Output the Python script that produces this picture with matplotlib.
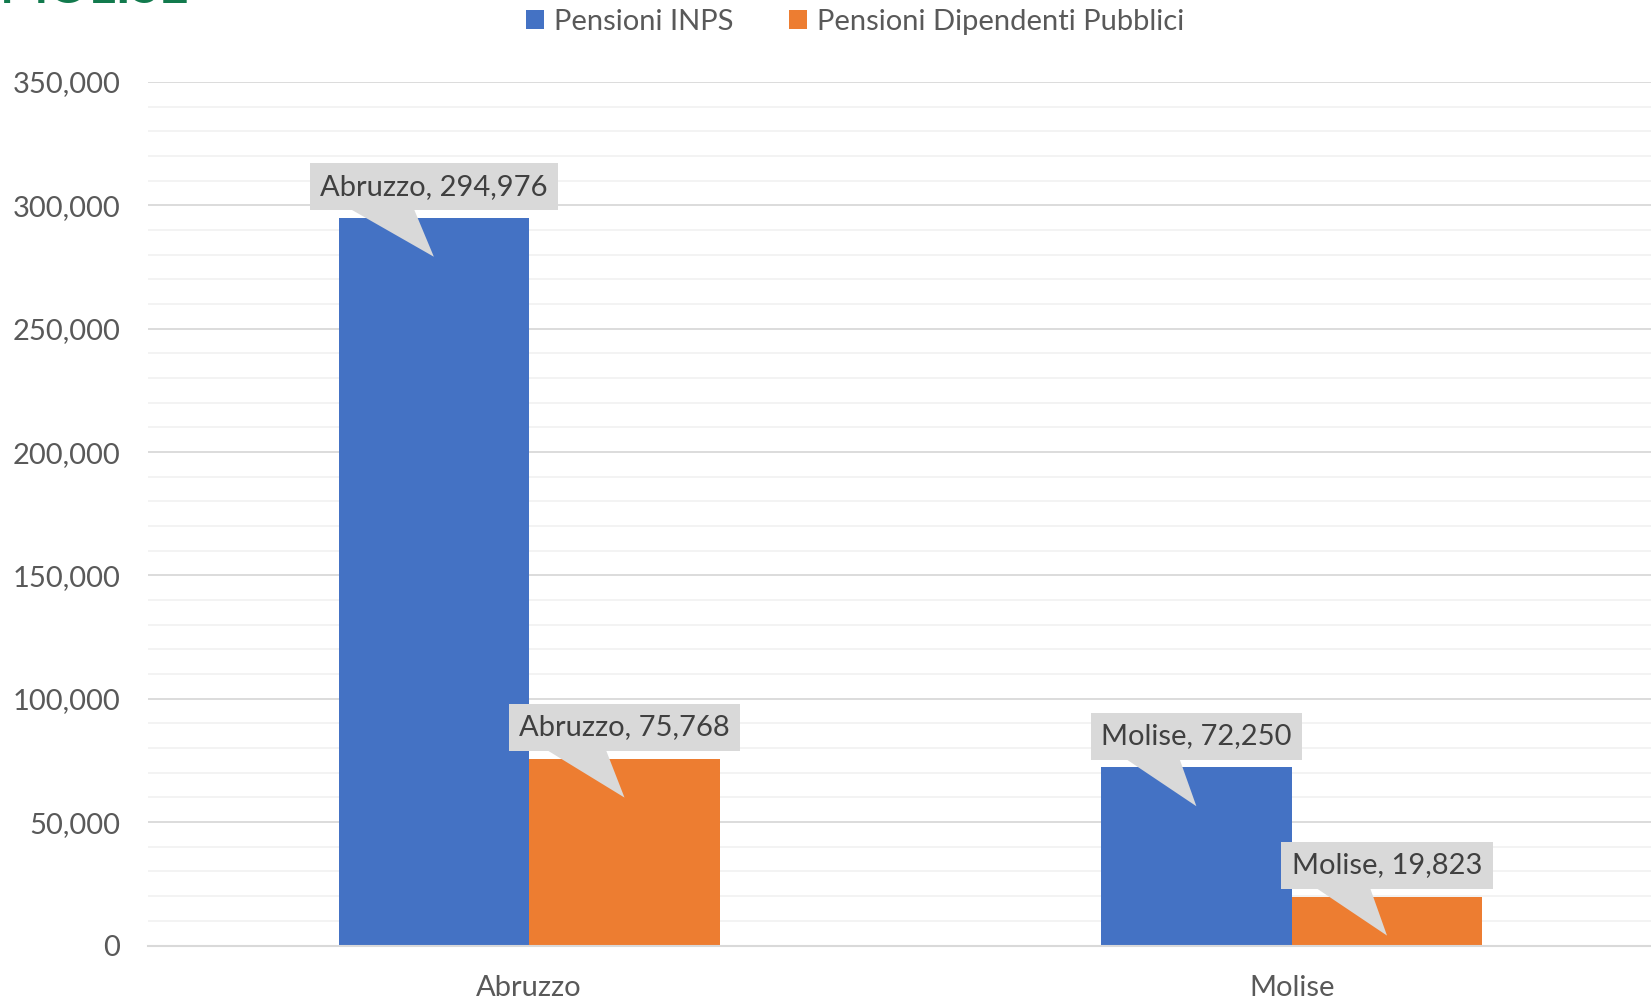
import numpy as np
import matplotlib.pyplot as plt
from matplotlib.patches import Polygon
from matplotlib.ticker import MultipleLocator, FuncFormatter

plt.rcParams['font.family'] = ['Lato', 'DejaVu Sans']

# data
regions = ['Abruzzo', 'Molise']
inps = [294976, 72250]
pubblici = [75768, 19823]
series_names = ['Pensioni INPS', 'Pensioni Dipendenti Pubblici']

blue = '#4472c4'
orange = '#ed7d31'
label_gray = '#d9d9d9'

fig = plt.figure(figsize=(16.51, 10), dpi=100)
ax = fig.add_axes([0.0896, 0.0545, 0.9237, 0.8635])

x = np.arange(len(regions))
w = 0.25
b1 = ax.bar(x - w / 2, inps, w, color=blue, label=series_names[0], zorder=2)
b2 = ax.bar(x + w / 2, pubblici, w, color=orange, label=series_names[1], zorder=2)

ax.set_xlim(-0.5, 1.5)
ax.set_ylim(0, 350000)
ax.yaxis.set_major_locator(MultipleLocator(50000))
ax.yaxis.set_minor_locator(MultipleLocator(10000))
ax.yaxis.set_major_formatter(FuncFormatter(lambda v, p: f'{int(v):,}'))
ax.grid(axis='y', which='major', color='#d9d9d9', lw=1.3, zorder=0)
ax.grid(axis='y', which='minor', color='#f2f2f2', lw=1.3, zorder=0)
ax.set_axisbelow(True)
for s in ['top', 'right', 'left']:
    ax.spines[s].set_visible(False)
ax.spines['bottom'].set_color('#d9d9d9')
ax.spines['bottom'].set_linewidth(1.5)

ax.set_xticks(x)
ax.set_xticklabels(regions)
ax.tick_params(axis='x', length=0, pad=21, labelsize=21, labelcolor='#595959')
ax.tick_params(axis='y', which='both', length=0, pad=20, labelsize=21, labelcolor='#595959')

# cut off title at top
fig.text(0.0, 1.0 - 3 / 1000, 'MOLISE', color='#127a4d', fontsize=37, fontweight='bold',
         ha='left', va='baseline')

leg = fig.legend(handles=[b1, b2], loc='center', bbox_to_anchor=(0.518, 0.978), ncol=2,
                 frameon=False, fontsize=21, handlelength=0.6, handleheight=0.6,
                 handletextpad=0.35, columnspacing=1.9)
for t in leg.get_texts():
    t.set_color('#595959')

# callout labels
texts = []
for bars in (b1, b2):
    for bar, reg in zip(bars, regions):
        xc = bar.get_x() + bar.get_width() / 2
        h = bar.get_height()
        t = ax.annotate(f'{reg}, {int(h):,}', (xc, h), xytext=(0, 13), textcoords='offset points',
                        ha='center', va='bottom', fontsize=21, color='#404040', zorder=5,
                        bbox=dict(boxstyle='square,pad=0.36', fc=label_gray, ec='none'))
        texts.append((t, xc, h))

fig.canvas.draw()
r = fig.canvas.get_renderer()
for t, xc, h in texts:
    bb = t.get_bbox_patch().get_window_extent(r)
    tip = ax.transData.transform((xc, h))
    tip = (tip[0], tip[1] - 39)
    x0 = bb.x0 + 0.165 * bb.width
    x1 = bb.x0 + 0.42 * bb.width
    poly = Polygon([(x0, bb.y0 + 1), (x1, bb.y0 + 1), tip], closed=True, transform=None,
                   fc=label_gray, ec='none', zorder=4)
    fig.add_artist(poly)

fig.savefig('out.png', dpi=100)
